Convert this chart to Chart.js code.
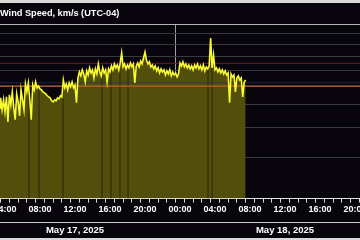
<!DOCTYPE html>
<html>
<head>
<meta charset="utf-8">
<title>Wind Speed</title>
<script src="https://cdn.jsdelivr.net/npm/chart.js@4.4.1/dist/chart.umd.min.js"></script>
<style>
  html, body { margin: 0; padding: 0; background: #d9d9d9; }
  #box { position: absolute; left: 0; top: 3px; width: 360px; height: 235px; background: #08060c; }
</style>
</head>
<body>
<div id="box"><canvas id="windChart" width="360" height="235"></canvas></div>
<script>
// 10 minute samples, first one at 03:00 May 17 (x values are hours from 00:00 May 17)
var startHour = 3;
var stepHours = 1 / 6;
var windSpeed = [
  500, 525, 485, 535, 476, 525, 467, 540, 423, 551,
  500, 567, 485, 432, 556, 514, 449, 578, 525, 476,
  613, 567, 619, 525, 432, 607, 578, 625, 590, 601,
  584, 578, 567, 562, 556, 546, 540, 535, 520, 514,
  525, 520, 535, 530, 546, 540, 637, 590, 613, 578,
  619, 596, 625, 590, 607, 510, 650, 689, 663, 703,
  676, 625, 696, 669, 717, 682, 703, 650, 710, 676,
  745, 689, 663, 717, 682, 703, 625, 710, 689, 731,
  703, 745, 717, 738, 703, 752, 829, 724, 745, 710,
  738, 717, 752, 724, 745, 619, 731, 752, 724, 767,
  745, 790, 837, 775, 745, 760, 724, 738, 710, 731,
  696, 717, 682, 710, 689, 703, 669, 696, 676, 703,
  663, 689, 669, 682, 656, 676, 752, 731, 760, 724,
  745, 717, 738, 710, 731, 703, 738, 717, 745, 710,
  731, 703, 738, 696, 724, 710, 731, 960, 717, 813,
  703, 717, 689, 710, 682, 703, 676, 696, 669, 682,
  510, 676, 656, 669, 567, 650, 663, 637, 650, 540,
  625, 637
];

// short drop-outs in the feed: hour and speed level where they show
var gapHours = [6.74, 7.89, 10.63, 15.09, 16.11, 17.14, 18.06, 27.2, 27.66];
var gapSpeed = [560, 575, 590, 680, 695, 710, 705, 715, 720];

// horizontal reference levels
var thresholdSpeed = [750, 620, 600];
var thresholdColor = ['#6e1e28', 'rgba(40,50,110,0.7)', '#c0622c'];

var gridSpeeds = [300, 400, 500, 600, 700, 800, 900, 1000, 1100];
var dayTicks = [12, 36];
var dayLabels = ['May 17, 2025', 'May 18, 2025'];

var xMin = 3.4286;
var xMax = 44.571;

var hourTicks = [];
for (var h = 4; h <= 44; h++) hourTicks.push(h);

var windPoints = windSpeed.map(function (v, i) {
    return { x: startHour + i * stepHours, y: v };
});
var gapPoints = gapHours.map(function (h, i) {
    return { x: h, y: gapSpeed[i] };
});

function hourLabel(v) {
    if (v % 4 !== 0) return '';
    var hh = v % 24;
    return (hh < 10 ? '0' : '') + hh + ':00';
}

function noPadding(scale) {
    scale.paddingLeft = 0;
    scale.paddingRight = 0;
}

var fontFamily = "'Liberation Sans', Arial, sans-serif";

var datasets = [{
    // yellow trace on top
    data: windPoints,
    borderColor: '#fafa30',
    borderWidth: 1.6,
    pointRadius: 0,
    fill: false,
    order: 0
}, {
    type: 'bar',
    data: gapPoints,
    backgroundColor: 'rgba(8,6,2,0.3)',
    barThickness: 1,
    order: 2
}, {
    // olive area under the trace
    data: windPoints,
    borderWidth: 0,
    pointRadius: 0,
    backgroundColor: '#524e0c',
    fill: 'start',
    order: 3
}];

thresholdSpeed.forEach(function (v, i) {
    datasets.push({
        data: [{ x: xMin, y: v }, { x: xMax, y: v }],
        borderColor: thresholdColor[i],
        borderWidth: 1.2,
        pointRadius: 0,
        fill: false,
        order: 1
    });
});

var ctx = document.getElementById('windChart').getContext('2d');
var windChart = new Chart(ctx, {
    type: 'line',
    data: { datasets: datasets },
    options: {
        responsive: false,
        animation: false,
        devicePixelRatio: 1,
        layout: { padding: { left: 0, right: 0, top: 0, bottom: 0 } },
        plugins: {
            legend: { display: false },
            tooltip: { enabled: false },
            title: {
                display: true,
                text: 'Wind Speed, km/s (UTC-04)',
                align: 'start',
                color: '#ffffff',
                font: { family: fontFamily, size: 9.2, weight: 'bold' },
                padding: { top: 5, bottom: 5 }
            }
        },
        scales: {
            x: {
                type: 'linear',
                min: xMin,
                max: xMax,
                offset: false,
                weight: 0,
                afterBuildTicks: function (s) {
                    s.ticks = hourTicks.map(function (v) { return { value: v }; });
                },
                afterFit: noPadding,
                ticks: {
                    autoSkip: false,
                    maxRotation: 0,
                    color: '#ffffff',
                    padding: 2,
                    font: { family: fontFamily, size: 9, weight: 'bold' },
                    callback: hourLabel
                },
                grid: {
                    color: function (c) {
                        return c.tick && c.tick.value === 24 ? '#a0a0a0' : 'rgba(0,0,0,0)';
                    },
                    tickColor: '#d8d8d8',
                    tickLength: 4
                },
                border: { color: '#e6e6e6' },
                title: { display: true, text: ' ', font: { size: 1 }, padding: { top: 0, bottom: 4 } }
            },
            xDate: {
                type: 'linear',
                position: 'bottom',
                min: xMin,
                max: xMax,
                offset: false,
                weight: 1,
                afterBuildTicks: function (s) {
                    s.ticks = dayTicks.map(function (v) { return { value: v }; });
                },
                afterFit: noPadding,
                ticks: {
                    autoSkip: false,
                    maxRotation: 0,
                    color: '#ffffff',
                    padding: 2,
                    font: { family: fontFamily, size: 9.5, weight: 'bold' },
                    callback: function (v, i) { return dayLabels[i]; }
                },
                grid: { drawOnChartArea: false, drawTicks: false },
                border: { color: '#c8c8c8' }
            },
            y: {
                type: 'logarithmic',
                min: 200,
                max: 1100,
                afterBuildTicks: function (s) {
                    s.ticks = gridSpeeds.map(function (v) { return { value: v }; });
                },
                ticks: { display: false },
                grid: {
                    drawTicks: false,
                    color: function (c) {
                        return c.tick && c.tick.value === 1100 ? '#b4b4b4' : '#3a3a3e';
                    }
                },
                border: { display: false }
            }
        }
    }
});
</script>
</body>
</html>
